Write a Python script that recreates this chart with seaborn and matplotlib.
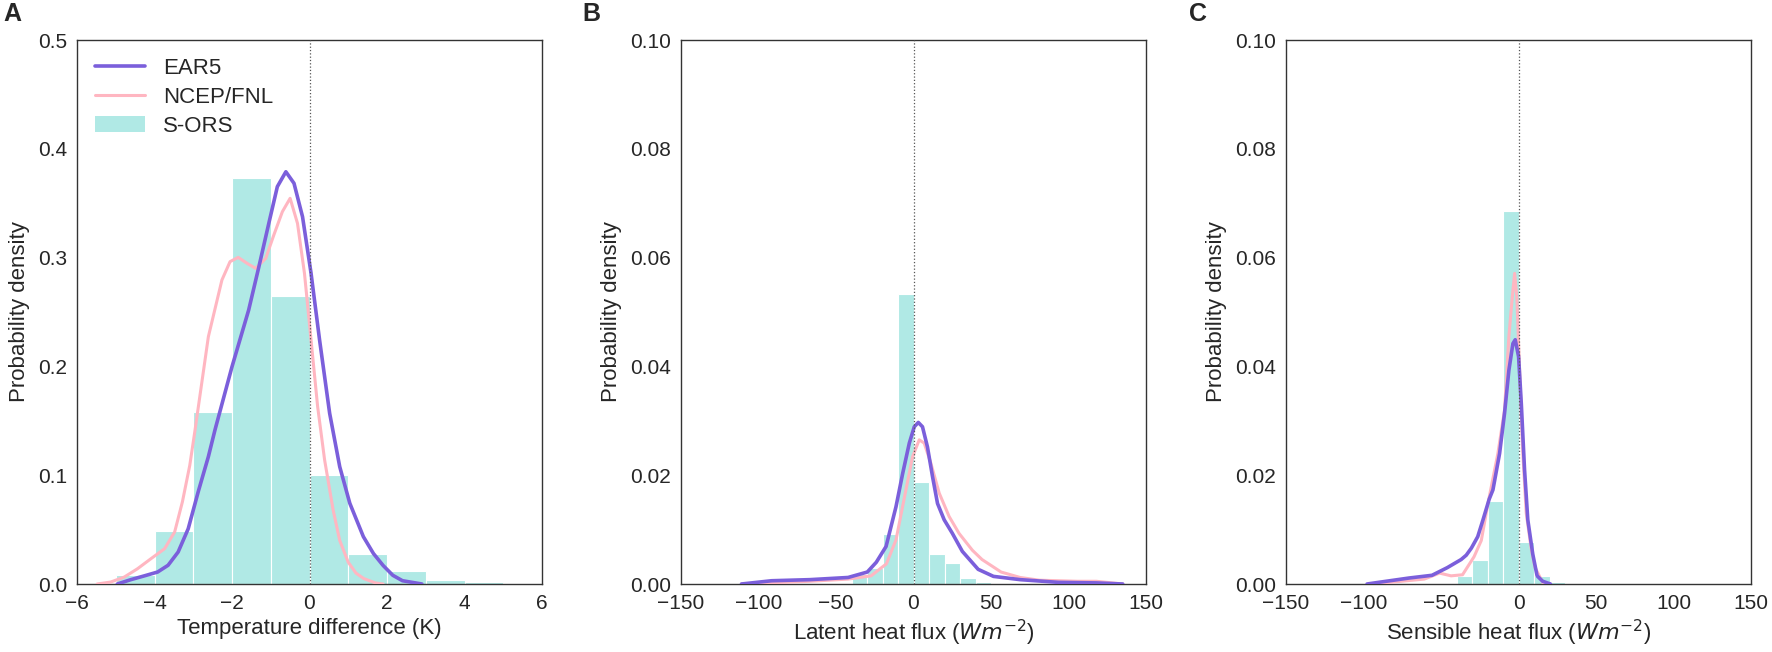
import numpy as np
import pandas as pd
import seaborn as sns
import matplotlib.pyplot as plt
from matplotlib.lines import Line2D
from matplotlib.patches import Patch

# S-ORS histogram (bin edges + density heights)
a_edges = [-5, -4, -3, -2, -1, 0, 1, 2, 3, 4, 5]
a_hist = [0.008, 0.049, 0.158, 0.373, 0.265, 0.100, 0.028, 0.012, 0.0035, 0.0015]
b_edges = [-40, -30, -20, -10, 0, 10, 20, 30, 40, 50]
b_hist = [0.0018, 0.0030, 0.0091, 0.0534, 0.0187, 0.0055, 0.0038, 0.0011, 0.0003]
c_edges = [-40, -30, -20, -10, 0, 10, 20, 30]
c_hist = [0.0015, 0.0045, 0.0152, 0.0685, 0.0077, 0.0015, 0.0003]

# EAR5 / NCEP-FNL density curves, panel A
a_era_x = [-4.96, -4.61, -4.27, -3.92, -3.65, -3.39, -3.13, -2.87, -2.61, -2.44, -2.00,
           -1.57, -1.31, -1.05, -0.83, -0.61, -0.40, -0.18, 0.04, 0.26, 0.52, 0.78,
           1.04, 1.39, 1.65, 1.90, 2.15, 2.40, 2.90]
a_era_y = [0.0, 0.004, 0.0074, 0.011, 0.0172, 0.0294, 0.0508, 0.085, 0.117, 0.1415, 0.1997,
           0.2518, 0.291, 0.3315, 0.3652, 0.3789, 0.3683, 0.3376, 0.2856, 0.2243, 0.1569, 0.1078,
           0.0742, 0.0435, 0.028, 0.017, 0.008, 0.003, 0.0]
a_ncep_x = [-5.48, -5.13, -4.78, -4.44, -4.09, -3.74, -3.48, -3.28, -3.09, -2.96, -2.61,
            -2.26, -2.05, -1.84, -1.61, -1.39, -1.13, -0.92, -0.70, -0.50, -0.31, -0.13,
            0.04, 0.21, 0.39, 0.61, 0.78, 1.00, 1.20, 1.40, 1.70, 1.90]
a_ncep_y = [0.0, 0.0018, 0.0064, 0.014, 0.0233, 0.0324, 0.0478, 0.0755, 0.109, 0.140, 0.2273,
            0.2794, 0.2963, 0.3002, 0.2947, 0.2901, 0.2993, 0.3208, 0.3422, 0.3545, 0.3315, 0.2856,
            0.2243, 0.163, 0.114, 0.068, 0.040, 0.020, 0.010, 0.005, 0.001, 0.0]

# panel B
b_era_x = [-111, -91.5, -66.9, -42.2, -29.8, -24, -17.7, -11.3, -7.0, -2.7, 0.5, 3.1,
           5.8, 9.0, 12.3, 15.5, 19.8, 25.1, 31.5, 41.7, 51.6, 68.8, 93.5, 118, 135]
b_era_y = [0.0, 0.0006, 0.0008, 0.0012, 0.0022, 0.0040, 0.0069, 0.0142, 0.0203, 0.0259, 0.0289, 0.0297,
           0.0289, 0.0252, 0.0197, 0.0148, 0.0118, 0.0093, 0.0060, 0.0027, 0.0014, 0.0008, 0.0003, 0.0002, 0.0]
b_ncep_x = [-111, -66.9, -42.2, -27.4, -17.5, -11.3, -4.9, -0.6, 3.7, 6.9, 11.2, 16.6,
            23.0, 29.4, 38.0, 44.2, 56.5, 68.8, 81.2, 105.9, 118, 135]
b_ncep_y = [0.0, 0.0005, 0.0009, 0.0015, 0.0037, 0.0081, 0.0173, 0.0234, 0.0265, 0.0259, 0.0222, 0.0167,
            0.0124, 0.0093, 0.0062, 0.0045, 0.0022, 0.0012, 0.0007, 0.0005, 0.0005, 0.0]

# panel C
c_era_x = [-97.7, -85.4, -70.6, -55.8, -46, -37, -33.7, -30.4, -26.3, -22.9, -18.9, -16.5,
           -12.2, -9.0, -6.2, -3.6, -2.1, 0.05, 1.8, 3.9, 6.0, 9.2, 12.0, 15.6, 20.6]
c_era_y = [0.0, 0.0005, 0.0011, 0.0016, 0.0030, 0.0045, 0.0053, 0.0066, 0.0087, 0.0118, 0.0156, 0.0173,
           0.0240, 0.0314, 0.0393, 0.0442, 0.0449, 0.0418, 0.0332, 0.0210, 0.0118, 0.0055, 0.0015, 0.0005, 0.0]
c_ncep_x = [-95.3, -75.6, -60.8, -50.9, -43.5, -36.1, -28.7, -24, -19.7, -13.3, -9.0,
            -6.2, -4.0, -2.5, -1.1, 0.7, 2.8, 5.0, 8.2, 10.7, 15.6, 19.3]
c_ncep_y = [0.0, 0.0005, 0.0009, 0.0020, 0.0015, 0.0017, 0.0050, 0.0080, 0.0148, 0.0240, 0.0320,
            0.0455, 0.0528, 0.0571, 0.0528, 0.0393, 0.0240, 0.0130, 0.0065, 0.0030, 0.0003, 0.0]

sns.set_style("white")
plt.rcParams['font.family'] = ['Liberation Sans', 'DejaVu Sans']

PURPLE = '#7b5fdb'
PINK = '#ffb6c1'
TEAL = '#b0e9e5'

fig = plt.figure(figsize=(17.72, 6.52), dpi=100)
W, H = 1772, 652
panels = [
    ('A', 77, a_edges, a_hist, a_era_x, a_era_y, a_ncep_x, a_ncep_y,
     'Temperature difference (K)', (-6, 6), np.arange(-6, 7, 2), 0.5, np.arange(0, 0.51, 0.1), '%.1f'),
    ('B', 681, b_edges, b_hist, b_era_x, b_era_y, b_ncep_x, b_ncep_y,
     r'Latent heat flux ($Wm^{-2}$)', (-150, 150), np.arange(-150, 151, 50), 0.1, np.arange(0, 0.101, 0.02), '%.2f'),
    ('C', 1286, c_edges, c_hist, c_era_x, c_era_y, c_ncep_x, c_ncep_y,
     r'Sensible heat flux ($Wm^{-2}$)', (-150, 150), np.arange(-150, 151, 50), 0.1, np.arange(0, 0.101, 0.02), '%.2f'),
]
letter_x = {'A': 3, 'B': 582, 'C': 1189}

for letter, left, edges, hist, ex, ey, nx, ny, xlabel, xlim, xticks, ymax, yticks, fmt in panels:
    ax = fig.add_axes([left / W, 1 - 584 / H, 465 / W, 544 / H])
    centers = [(edges[i] + edges[i + 1]) / 2 for i in range(len(hist))]
    sns.histplot(x=centers, weights=hist, bins=edges, stat='count', ax=ax,
                 color=TEAL, alpha=1.0, edgecolor='white', linewidth=0.8, zorder=1)
    sns.lineplot(x=nx, y=ny, ax=ax, color=PINK, linewidth=2.2, zorder=3)
    sns.lineplot(x=ex, y=ey, ax=ax, color=PURPLE, linewidth=2.6, zorder=4)
    ax.axvline(0, color='#555555', linestyle=':', linewidth=0.9, zorder=5)
    ax.set_xlim(*xlim)
    ax.set_ylim(0, ymax)
    ax.set_xticks(xticks)
    ax.set_yticks(yticks)
    ax.set_yticklabels([fmt % v for v in yticks])
    ax.tick_params(labelsize=15, pad=7, length=0)
    ax.set_xlabel(xlabel, fontsize=16, labelpad=4)
    ax.set_ylabel('Probability density', fontsize=16, labelpad=6)
    for s in ax.spines.values():
        s.set_color('#333333')
        s.set_linewidth(1.0)
    fig.text(letter_x[letter] / W, 1 - 14 / H, letter, fontsize=18, fontweight='bold',
             ha='left', va='center')
    if letter == 'A':
        handles = [Line2D([], [], color=PURPLE, linewidth=2.6),
                   Line2D([], [], color=PINK, linewidth=2.2),
                   Patch(facecolor=TEAL, edgecolor='none')]
        ax.legend(handles, ['EAR5', 'NCEP/FNL', 'S-ORS'], loc='upper left', frameon=False,
                  bbox_to_anchor=(0.039, 0.967), borderaxespad=0, borderpad=0,
                  fontsize=16, handlelength=2.25, handletextpad=0.8, labelspacing=0.35)

fig.savefig('out.png', dpi=100)
